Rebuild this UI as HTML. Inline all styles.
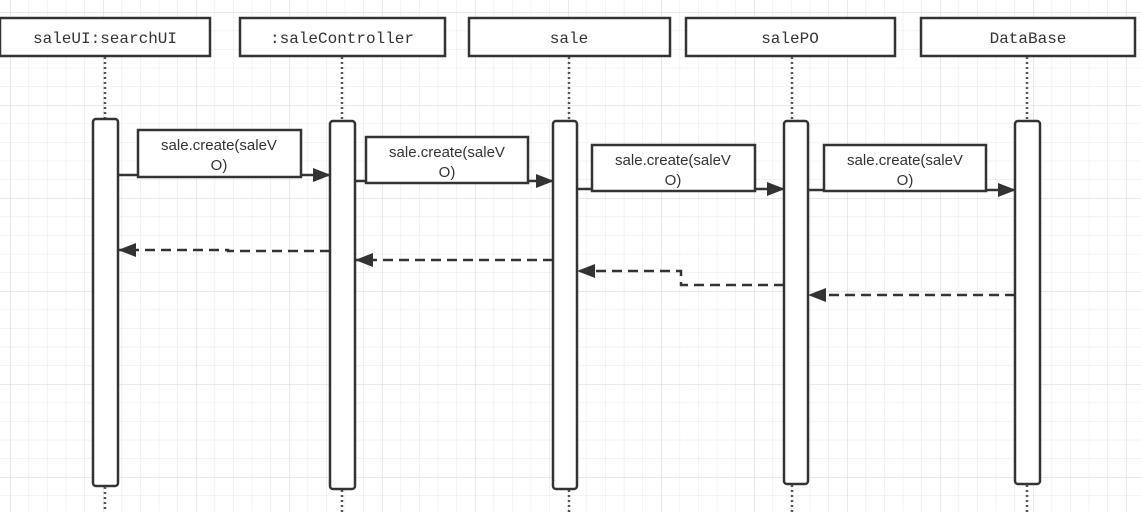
<!DOCTYPE html>
<html><head><meta charset="utf-8"><style>
html,body{margin:0;padding:0;background:#fff;}
svg{display:block;}
.mono{font-family:"Liberation Mono","Noto Sans CJK SC",monospace;font-size:16px;fill:#333;}
.sans{font-family:"Liberation Sans","Noto Sans CJK SC",sans-serif;font-size:15px;fill:#333;}
</style></head><body>
<svg width="1141" height="512" xmlns="http://www.w3.org/2000/svg">
<defs>
<pattern id="g" x="10" y="12" width="18.6" height="18.6" patternUnits="userSpaceOnUse">
<path d="M0 0V18.6M0 0H18.6" stroke="#e6e6e6" stroke-width="1" fill="none"/>
</pattern>
<pattern id="G" x="10" y="12" width="93" height="93" patternUnits="userSpaceOnUse">
<path d="M0 0V93M0 0H93" stroke="#dadada" stroke-width="1.2" fill="none"/>
</pattern>
<marker id="a" markerWidth="18" markerHeight="14" refX="17" refY="7" orient="auto" markerUnits="userSpaceOnUse">
<path d="M0 0L18 7L0 14z" fill="#333"/>
</marker>
</defs>
<rect width="1141" height="512" fill="url(#g)"/>
<rect width="1141" height="512" fill="url(#G)"/>
<g stroke="#333" stroke-width="2.5" fill="#fff">
<rect x="0" y="18" width="210" height="38"/>
<rect x="240" y="18" width="205" height="38"/>
<rect x="469" y="18" width="201" height="38"/>
<rect x="686" y="18" width="209" height="38"/>
<rect x="921" y="18" width="214" height="38"/>
</g>
<g class="mono" text-anchor="middle">
<text x="105" y="43">saleUI:searchUI</text>
<text x="342" y="43">:saleController</text>
<text x="569" y="43">sale</text>
<text x="790" y="43">salePO</text>
<text x="1028" y="43">DataBase</text>
</g>
<g stroke="#555" stroke-width="2.5" stroke-dasharray="2,3">
<line x1="105" y1="57" x2="105" y2="118"/><line x1="105" y1="487" x2="105" y2="512"/>
<line x1="342" y1="57" x2="342" y2="120"/><line x1="342" y1="490" x2="342" y2="512"/>
<line x1="569" y1="57" x2="569" y2="120"/><line x1="569" y1="490" x2="569" y2="512"/>
<line x1="792" y1="57" x2="792" y2="120"/><line x1="792" y1="485" x2="792" y2="512"/>
<line x1="1027" y1="57" x2="1027" y2="120"/><line x1="1027" y1="485" x2="1027" y2="512"/>
</g>
<g stroke="#333" stroke-width="2.5" fill="#fff">
<rect x="93" y="119" width="25" height="367" rx="3"/>
<rect x="330" y="121" width="25" height="368" rx="3"/>
<rect x="553" y="121" width="24" height="368" rx="3"/>
<rect x="784" y="121" width="24" height="363" rx="3"/>
<rect x="1015" y="121" width="25" height="363" rx="3"/>
</g>
<g stroke="#333" stroke-width="2.5" fill="none">
<line x1="118" y1="175" x2="330" y2="175" marker-end="url(#a)"/>
<line x1="355" y1="181" x2="553" y2="181" marker-end="url(#a)"/>
<line x1="577" y1="189" x2="784" y2="189" marker-end="url(#a)"/>
<line x1="808" y1="190" x2="1015" y2="190" marker-end="url(#a)"/>
</g>
<g stroke="#333" stroke-width="2.5" fill="#fff">
<rect x="138" y="130" width="163" height="47"/>
<rect x="366" y="137" width="162" height="46"/>
<rect x="592" y="145" width="163" height="46"/>
<rect x="824" y="145" width="162" height="46"/>
</g>
<g class="sans" text-anchor="middle">
<text x="219" y="150">sale.create(saleV</text><text x="219" y="170">O)</text>
<text x="447" y="157">sale.create(saleV</text><text x="447" y="177">O)</text>
<text x="673" y="165">sale.create(saleV</text><text x="673" y="185">O)</text>
<text x="905" y="165">sale.create(saleV</text><text x="905" y="185">O)</text>
</g>
<g stroke="#333" stroke-width="2.5" fill="none" stroke-dasharray="10,6">
<path d="M330 251H228V250H119" marker-end="url(#a)"/>
<path d="M553 260H356" marker-end="url(#a)"/>
<path d="M784 285H681V271H578" marker-end="url(#a)"/>
<path d="M1015 295H809" marker-end="url(#a)"/>
</g>
</svg>
</body></html>
